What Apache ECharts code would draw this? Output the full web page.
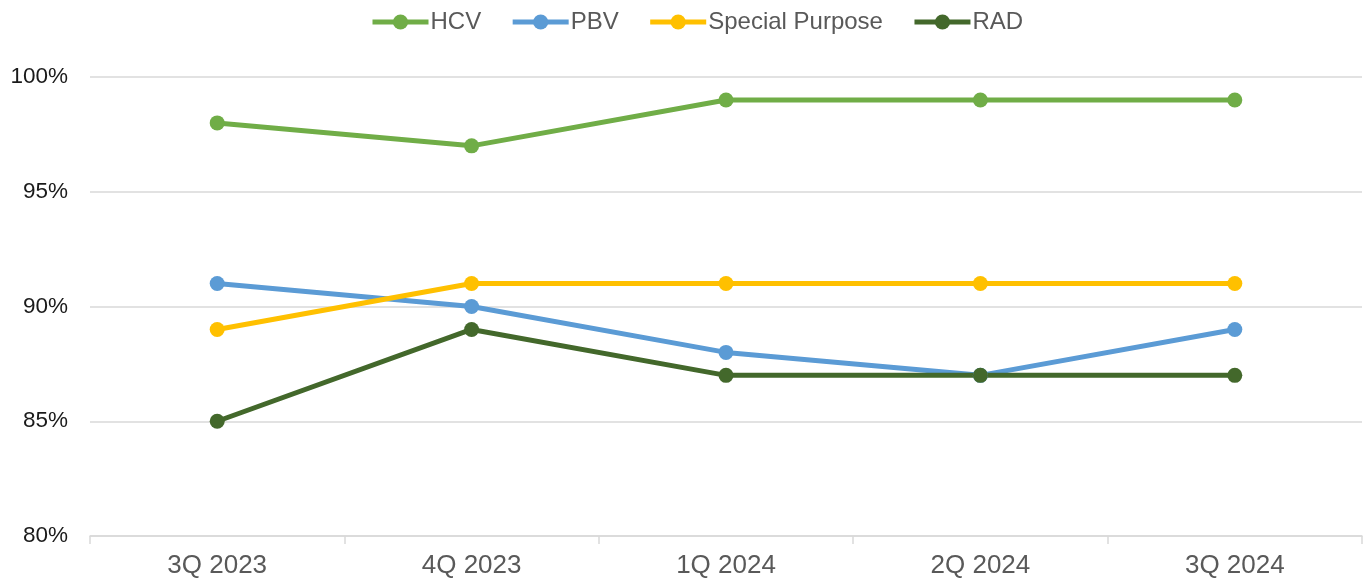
<!DOCTYPE html>
<html>
<head>
<meta charset="utf-8">
<script src="https://cdn.jsdelivr.net/npm/echarts@6/dist/echarts.min.js"></script>
<style>
html,body{margin:0;padding:0;background:#fff;}
#main{width:1371px;height:581px;}
</style>
</head>
<body>
<div id="main"></div>
<script>
// 数据
const quarters = ['3Q 2023', '4Q 2023', '1Q 2024', '2Q 2024', '3Q 2024']
const hcv = [98, 97, 99, 99, 99]
const pbv = [91, 90, 88, 87, 89]
const specialPurpose = [89, 91, 91, 91, 91]
const rad = [85, 89, 87, 87, 87]

const font = 'Liberation Sans, Arial, sans-serif'

const mkSeries = (name, data, color) => ({
	name: name,
	type: 'line',
	data: data,
	symbol: 'circle',
	symbolSize: 15,
	lineStyle: { width: 5, color: color },
	itemStyle: { color: color },
	emphasis: { disabled: true }
})

const option = {
	animation: false,
	textStyle: { fontFamily: font },
	legend: {
		top: 5,
		left: 365,
		itemWidth: 56,
		itemHeight: 19,
		itemGap: 29,
		lineStyle: { width: 5 },
		textStyle: { fontSize: 24, color: '#595959', fontFamily: font, padding: [0, 0, 0, -3] }
	},
	grid: { left: 90, right: 9, top: 77, bottom: 45 },
	xAxis: {
		type: 'category',
		boundaryGap: true,
		data: quarters,
		axisLine: { lineStyle: { color: '#d9d9d9', width: 1.5 } },
		axisTick: { show: true, length: 8, lineStyle: { color: '#d9d9d9', width: 1.5 } },
		axisLabel: { fontSize: 26, color: '#595959', margin: 17, fontFamily: font }
	},
	yAxis: {
		type: 'value',
		min: 80,
		max: 100,
		interval: 5,
		axisLine: { show: false },
		axisTick: { show: false },
		splitLine: { lineStyle: { color: '#d9d9d9', width: 1.5 } },
		axisLabel: { fontSize: 22.5, color: '#1a1a1a', margin: 22, padding: [3, 0, 0, 0], formatter: '{value}%', fontFamily: font }
	},
	series: [
		mkSeries('HCV', hcv, '#70AD47'),
		mkSeries('PBV', pbv, '#5B9BD5'),
		mkSeries('Special Purpose', specialPurpose, '#FFC000'),
		mkSeries('RAD', rad, '#43682B')
	]
}

const myChart = echarts.init(document.getElementById('main'))
myChart.setOption(option)
</script>
</body>
</html>
